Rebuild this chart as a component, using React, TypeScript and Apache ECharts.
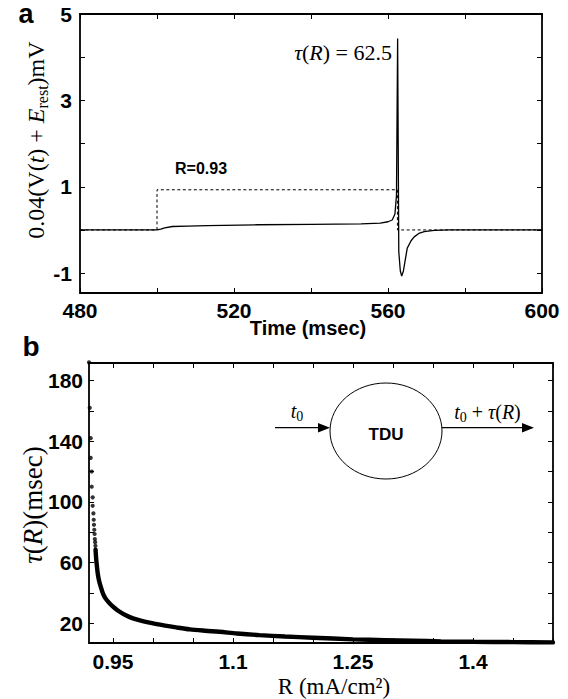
import React, { useEffect, useRef } from "react";
import * as echarts from "echarts";

// ---- Panel a: membrane response trace ----
const traceTime = [480, 500, 501, 502, 504, 508, 513, 526, 540, 553, 558, 560, 561.1, 561.8, 562.2, 562.5, 562.8, 563.2, 563.56, 564.0, 565.0, 566.0, 566.8, 568.0, 569.4, 572.0, 576.0, 600];
const traceVolt = [0, 0, 0.02, 0.05, 0.08, 0.09, 0.1, 0.12, 0.13, 0.14, 0.16, 0.19, 0.23, 0.37, 0.8, 4.43, -0.5, -0.95, -1.07, -0.95, -0.42, -0.25, -0.16, -0.08, -0.04, -0.01, 0, 0];
const stimTime = [480, 500, 500, 562.45, 562.45, 600];
const stimLevel = [0, 0, 0.93, 0.93, 0, 0];

const aXTicks = [480, 500, 520, 540, 560, 580, 600];
const aXLabels = [480, 520, 560, 600];
const aYTicks = [-1, 0, 1, 2, 3, 4, 5];
const aYLabels = [-1, 1, 3, 5];

// ---- Panel b: delay tau(R) ----
const dotR = [0.920, 0.9209, 0.9221, 0.9221, 0.9234, 0.9234, 0.9246, 0.9246, 0.9255, 0.9259, 0.9262, 0.9266, 0.927, 0.9273, 0.9277, 0.928];
const dotTau = [192, 162, 142, 129, 120, 110, 103, 97.4, 92.4, 88.2, 84.9, 81.6, 78.8, 75.5, 73.4, 71];
const curveR = [0.9282, 0.9286, 0.9292, 0.93, 0.931, 0.9325, 0.935, 0.9375, 0.941, 0.9459, 0.952, 0.9584, 0.966, 0.975, 0.987, 1.0, 1.015, 1.029, 1.046, 1.065, 1.083, 1.105, 1.133, 1.165, 1.2, 1.25, 1.29, 1.325, 1.36, 1.4, 1.45, 1.5];
const curveTau = [68.5, 65, 61, 57, 52.5, 48.2, 43.5, 39.5, 36, 33, 30, 27.5, 25.2, 23.1, 21.3, 19.9, 18.4, 17.2, 15.9, 15, 14.3, 13.2, 12.1, 11.2, 10.4, 9.3, 8.8, 8.4, 8.0, 7.7, 7.5, 7.3];

const bXTicks = [0.95, 1.0, 1.05, 1.1, 1.15, 1.2, 1.25, 1.3, 1.35, 1.4, 1.45, 1.5];
const bXLabels = [0.95, 1.1, 1.25, 1.4];
const bYTicks = [20, 40, 60, 80, 100, 120, 140, 160, 180];
const bYLabels = [20, 60, 100, 140, 180];

const SANS = "'Liberation Sans', Arial, Helvetica, sans-serif";
const SERIF = "'Liberation Serif', 'Times New Roman', serif";
const AXLINE = { show: true, onZero: false, lineStyle: { color: "#000", width: 1.8 } };

function zip(a: number[], b: number[]) {
  return a.map((v, i) => [v, b[i]]);
}

function axis(opts: any) {
  const { gridIndex, position, min, max, ticks, labels, fontSize, margin } = opts;
  return {
    type: "value",
    gridIndex,
    position,
    min,
    max,
    axisLine: AXLINE,
    splitLine: { show: false },
    axisTick: { show: true, inside: true, length: 5, customValues: ticks, lineStyle: { color: "#000", width: 1 } },
    axisLabel: labels
      ? { show: true, customValues: labels, color: "#000", fontFamily: SANS, fontWeight: "bold", fontSize, margin }
      : { show: false },
  };
}

export default function App() {
  const ref = useRef<HTMLDivElement>(null);
  useEffect(() => {
    if (!ref.current) return;
    const chart = echarts.init(ref.current, undefined, { renderer: "svg" });
    const option: any = {
      animation: false,
      backgroundColor: "#fff",
      grid: [
        { left: 80, top: 14, width: 462, height: 279 },
        { left: 89, top: 363, width: 464, height: 280 },
      ],
      xAxis: [
        axis({ gridIndex: 0, position: "bottom", min: 480, max: 600, ticks: aXTicks, labels: aXLabels, fontSize: 21, margin: 7 }),
        axis({ gridIndex: 0, position: "top", min: 480, max: 600, ticks: aXTicks }),
        axis({ gridIndex: 1, position: "bottom", min: 0.92, max: 1.5, ticks: bXTicks, labels: bXLabels, fontSize: 21, margin: 8 }),
        axis({ gridIndex: 1, position: "top", min: 0.92, max: 1.5, ticks: bXTicks }),
      ],
      yAxis: [
        axis({ gridIndex: 0, position: "left", min: -1.46, max: 5, ticks: aYTicks, labels: aYLabels, fontSize: 21, margin: 8 }),
        axis({ gridIndex: 0, position: "right", min: -1.46, max: 5, ticks: aYTicks }),
        axis({ gridIndex: 1, position: "left", min: 6.9, max: 191.6, ticks: bYTicks, labels: bYLabels, fontSize: 21, margin: 6 }),
        axis({ gridIndex: 1, position: "right", min: 6.9, max: 191.6, ticks: bYTicks }),
      ],
      series: [
        {
          type: "line",
          xAxisIndex: 0,
          yAxisIndex: 0,
          data: zip(stimTime, stimLevel),
          symbol: "none",
          lineStyle: { color: "#000", width: 1, type: [3, 2.5] },
          z: 2,
        },
        {
          type: "line",
          xAxisIndex: 0,
          yAxisIndex: 0,
          data: zip(traceTime, traceVolt),
          symbol: "none",
          lineStyle: { color: "#000", width: 1.3 },
          z: 3,
        },
        {
          type: "scatter",
          xAxisIndex: 2,
          yAxisIndex: 2,
          data: zip(dotR, dotTau),
          symbol: "circle",
          symbolSize: 4.2,
          itemStyle: { color: "#000" },
          clip: false,
        },
        {
          type: "line",
          xAxisIndex: 2,
          yAxisIndex: 2,
          data: zip(curveR, curveTau),
          symbol: "none",
          smooth: 0.3,
          lineStyle: { color: "#000", width: 4.4, cap: "round" },
          clip: false,
        },
      ],
      graphic: [
        { type: "text", x: 26, y: 0, style: { text: "a", font: `bold 27px ${SANS}`, fill: "#000", align: "center", verticalAlign: "top" } },
        { type: "text", x: 31, y: 346, style: { text: "b", font: `bold 28px ${SANS}`, fill: "#000", align: "center", verticalAlign: "middle" } },
        {
          type: "text",
          x: 36,
          y: 140,
          rotation: Math.PI / 2,
          style: {
            text: "{n|0.04(V(}{i|t}{n|) + }{i|E}{s|rest}{n|)mV}",
            align: "center",
            verticalAlign: "middle",
            fill: "#000",
            rich: {
              n: { fontFamily: SERIF, fontSize: 24, lineHeight: 28, verticalAlign: "middle", fill: "#000" },
              i: { fontFamily: SERIF, fontStyle: "italic", fontSize: 24, lineHeight: 28, verticalAlign: "middle", fill: "#000" },
              s: { fontFamily: SERIF, fontSize: 16, lineHeight: 12, verticalAlign: "bottom", fill: "#000" },
            },
          },
        },
        { type: "text", x: 308, y: 328, style: { text: "Time (msec)", font: `bold 20px ${SANS}`, fill: "#000", align: "center", verticalAlign: "middle" } },
        { type: "text", x: 201, y: 168, style: { text: "R=0.93", font: `bold 16px ${SANS}`, fill: "#000", align: "center", verticalAlign: "middle" } },
        {
          type: "text",
          x: 392,
          y: 52,
          style: {
            text: "{i|τ}{n|(}{i|R}{n|) = 62.5}",
            align: "right",
            verticalAlign: "middle",
            rich: {
              n: { fontFamily: SERIF, fontSize: 22, fill: "#000" },
              i: { fontFamily: SERIF, fontStyle: "italic", fontSize: 22, fill: "#000" },
            },
          },
        },
        {
          type: "text",
          x: 33,
          y: 505,
          rotation: Math.PI / 2,
          style: {
            text: "{i|τ}{n|(}{i|R}{n|)(msec)}",
            align: "center",
            verticalAlign: "middle",
            rich: {
              n: { fontFamily: SERIF, fontSize: 27, fill: "#000" },
              i: { fontFamily: SERIF, fontStyle: "italic", fontSize: 27, fill: "#000" },
            },
          },
        },
        { type: "text", x: 334, y: 686, style: { text: "R (mA/cm²)", font: `23px ${SERIF}`, fill: "#000", align: "center", verticalAlign: "middle" } },
        { type: "ellipse", shape: { cx: 386, cy: 431, rx: 56, ry: 48 }, style: { fill: "none", stroke: "#000", lineWidth: 1 } },
        { type: "text", x: 386, y: 434, style: { text: "TDU", font: `bold 17px ${SANS}`, fill: "#000", align: "center", verticalAlign: "middle" } },
        { type: "line", shape: { x1: 275, y1: 427.7, x2: 320, y2: 427.7 }, style: { stroke: "#000", lineWidth: 1.2 } },
        { type: "polygon", shape: { points: [[318, 423], [330, 427.7], [318, 432.4]] }, style: { fill: "#000" } },
        { type: "line", shape: { x1: 442, y1: 427.7, x2: 524, y2: 427.7 }, style: { stroke: "#000", lineWidth: 1.2 } },
        { type: "polygon", shape: { points: [[522, 423], [534, 427.7], [522, 432.4]] }, style: { fill: "#000" } },
        {
          type: "text",
          x: 297,
          y: 411,
          style: {
            text: "{i|t}{s|0}",
            align: "center",
            verticalAlign: "middle",
            rich: {
              i: { fontFamily: SERIF, fontStyle: "italic", fontSize: 20, lineHeight: 24, verticalAlign: "middle", fill: "#000" },
              s: { fontFamily: SERIF, fontSize: 14, lineHeight: 10, verticalAlign: "bottom", fill: "#000" },
            },
          },
        },
        {
          type: "text",
          x: 487.5,
          y: 412,
          style: {
            text: "{i|t}{s|0}{n| + }{i|τ}{n|(}{i|R}{n|)}",
            align: "center",
            verticalAlign: "middle",
            rich: {
              n: { fontFamily: SERIF, fontSize: 20, lineHeight: 24, verticalAlign: "middle", fill: "#000" },
              i: { fontFamily: SERIF, fontStyle: "italic", fontSize: 20, lineHeight: 24, verticalAlign: "middle", fill: "#000" },
              s: { fontFamily: SERIF, fontSize: 14, lineHeight: 10, verticalAlign: "bottom", fill: "#000" },
            },
          },
        },
      ],
    };
    chart.setOption(option);
    return () => chart.dispose();
  }, []);
  return (
    <div
      ref={ref}
      style={{ position: "absolute", left: 0, top: 0, width: 568, height: 699, background: "#fff" }}
    />
  );
}
